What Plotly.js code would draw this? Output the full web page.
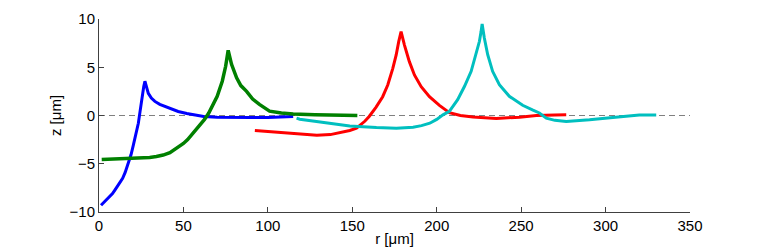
<!DOCTYPE html>
<html>
<head>
<meta charset="utf-8">
<script src="https://cdn.plot.ly/plotly-3.0.1.min.js"></script>
<style>html,body{margin:0;padding:0;background:#fff;}#chart{width:763px;height:250px;}</style>
</head>
<body>
<div id="chart"></div>
<script>
// Data (r in µm, z in µm)
const blueR = [1.2,2,3,4,5.5,6.5,8,9.5,11.4,12.5,14,15.5,17.3,19,20.3,21.8,23.3,24.3,25.2,26.5,27.2,28,29.2,31,33.1,36,39,43,46.9,52,56.8,62,70,80,90,100,108,115];
const blueZ = [-9.3,-9.15,-9.0,-8.8,-8.5,-8.35,-8.1,-7.7,-7.2,-6.9,-6.5,-5.9,-5.0,-4.05,-3.1,-2.0,-0.8,0.4,1.6,3.0,3.55,3.0,2.3,1.8,1.46,1.15,0.94,0.65,0.42,0.2,0.07,-0.1,-0.18,-0.22,-0.2,-0.22,-0.15,-0.1];

const greenR = [1.6,10,20,30,34,38,42,45,47.5,50,52.5,55,57.5,60,62.5,65,67.5,70,73,75,76.5,78.5,81.5,84,87.4,91,95,101,108,115,128,140,153];
const greenZ = [-4.55,-4.5,-4.45,-4.35,-4.25,-4.1,-3.85,-3.5,-3.25,-2.9,-2.5,-2.0,-1.5,-0.97,-0.4,0.25,1.05,2.0,3.55,5.1,6.75,5.3,3.9,3.1,2.5,1.7,1.15,0.45,0.25,0.15,0.07,0.0,0.0];

const redR = [92.3,105,119,129,137,144.6,148.5,152.5,155,157.4,160,164,168,171,174,176,177.5,178.9,180.9,183.8,186.8,190.8,195.7,201.6,207.5,214,221.5,235.3,249.1,259,270,276.7];
const redZ = [-1.56,-1.74,-1.91,-2.05,-1.98,-1.74,-1.55,-1.32,-1.0,-0.6,-0.1,0.85,1.95,3.16,4.89,6.27,7.65,8.69,7.3,5.58,4.2,2.98,1.95,1.05,0.3,0.0,-0.15,-0.3,-0.17,0.0,0.05,0.07];

const cyanR = [117,118.9,128.8,138.6,148.5,164.3,176.1,186,191,195.9,200,203.7,207.5,212.4,216.4,220.4,223.3,225.3,226.3,226.9,228.2,230.2,233.1,237.1,243,250.9,257,260.8,264.9,270,276.7,290.5,304.3,320,330];
const cyanZ = [-0.27,-0.38,-0.62,-0.87,-1.08,-1.25,-1.32,-1.21,-1.05,-0.8,-0.4,0.07,0.43,1.64,3.0,4.58,6.3,7.69,8.72,9.48,8.03,6.3,4.58,3.19,1.99,1.06,0.55,0.26,-0.27,-0.5,-0.62,-0.45,-0.2,0.05,0.05];

const refR = [0, 350];
const refZ = [0, 0];

const xTicks = [0,50,100,150,200,250,300,350];
const yTicks = [-10,-5,0,5,10];

const FONT = 'Liberation Sans, Arial, Helvetica, sans-serif';

const traces = [
  {x: refR, y: refZ, mode: 'lines', line: {color: '#808080', width: 1, dash: '6px,4px'}, hoverinfo: 'skip'},
  {x: blueR, y: blueZ, mode: 'lines', line: {color: '#0000FF', width: 3}},
  {x: greenR, y: greenZ, mode: 'lines', line: {color: '#008000', width: 3.5}},
  {x: redR, y: redZ, mode: 'lines', line: {color: '#FF0000', width: 3}},
  {x: cyanR, y: cyanZ, mode: 'lines', line: {color: '#00BFBF', width: 3}}
];

const layout = {
  width: 763, height: 250,
  margin: {l: 99, r: 73, t: 19, b: 38},
  showlegend: false,
  paper_bgcolor: '#ffffff', plot_bgcolor: '#ffffff',
  font: {family: FONT, size: 15, color: '#000'},
  xaxis: {
    range: [0, 350], tickvals: xTicks, ticktext: xTicks.map(String),
    ticks: 'inside', ticklen: 5, tickcolor: '#404040', tickwidth: 1,
    showline: true, linecolor: '#404040', linewidth: 1, mirror: false,
    showgrid: false, zeroline: false,
    tickfont: {family: FONT, size: 15, color: '#000'},
    title: {text: 'r [μm]', font: {family: FONT, size: 15, color: '#000'}, standoff: 0}
  },
  yaxis: {
    range: [-10, 10], tickvals: yTicks, ticktext: yTicks.map(v => v < 0 ? '\u2212' + Math.abs(v) : String(v)),
    ticks: 'inside', ticklen: 5, tickcolor: '#404040', tickwidth: 1,
    showline: true, linecolor: '#404040', linewidth: 1, mirror: false,
    showgrid: false, zeroline: false,
    tickfont: {family: FONT, size: 15, color: '#000'},
    title: {text: 'z [μm]', font: {family: FONT, size: 15, color: '#000'}, standoff: 4}
  }
};

Plotly.newPlot('chart', traces, layout, {staticPlot: true, displayModeBar: false});
</script>
</body>
</html>
